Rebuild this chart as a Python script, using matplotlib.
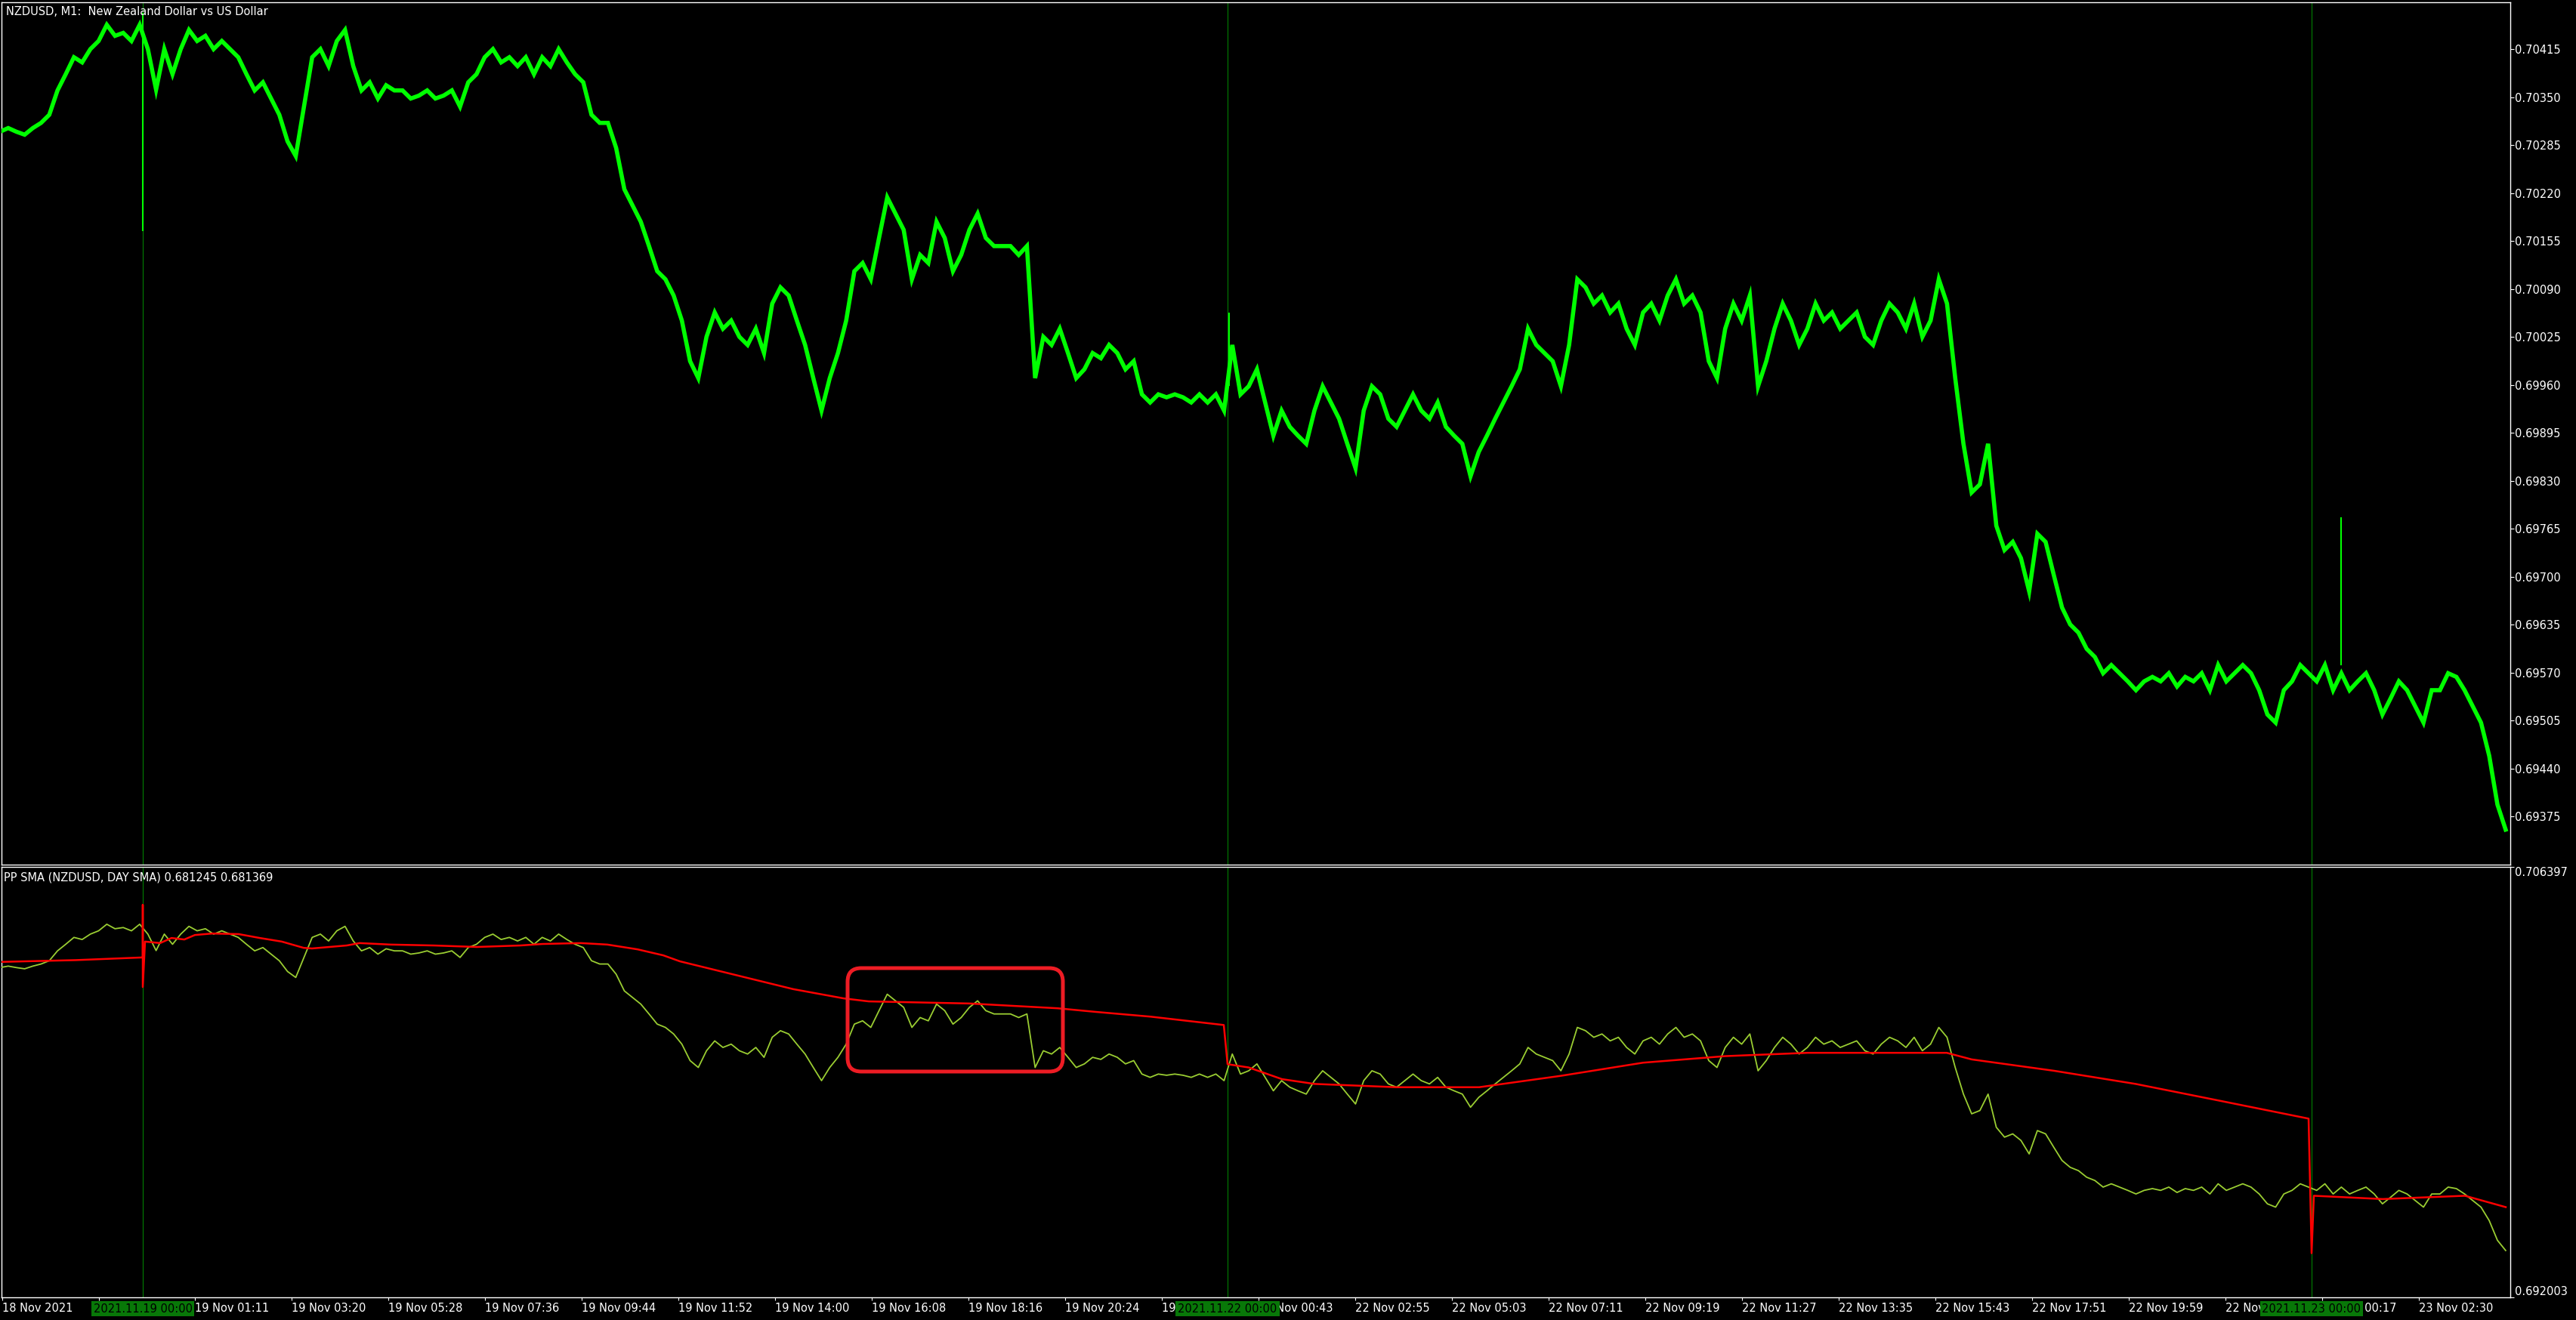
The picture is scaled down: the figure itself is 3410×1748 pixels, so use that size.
import matplotlib
matplotlib.use("Agg")
import matplotlib.pyplot as plt
import matplotlib.transforms as mtransforms
from matplotlib.patches import FancyBboxPatch
import numpy as np

plt.rcParams['font.family'] = ['DejaVu Sans']

# NZDUSD M1 close: one sample every ~10.9 bars (1 bar ~ 1 px)
close = [
    0.70303, 0.70308, 0.70303, 0.70299, 0.70308, 0.70315, 0.70326, 0.70359, 0.70381, 0.70404,
    0.70397, 0.70415, 0.70426, 0.70448, 0.70433, 0.70437, 0.70426, 0.70448, 0.70415, 0.70360,
    0.70415, 0.70381, 0.70415, 0.70441, 0.70426, 0.70433, 0.70415, 0.70426, 0.70415, 0.70404,
    0.70381, 0.70359, 0.70370, 0.70348, 0.70326, 0.70290, 0.70270, 0.70337, 0.70404, 0.70415,
    0.70392, 0.70426, 0.70441, 0.70392, 0.70359, 0.70370, 0.70348, 0.70366, 0.70359, 0.70359,
    0.70348, 0.70352, 0.70359, 0.70348, 0.70352, 0.70359, 0.70337, 0.70370, 0.70381, 0.70404,
    0.70415, 0.70397, 0.70404, 0.70392, 0.70404, 0.70381, 0.70404, 0.70392, 0.70415, 0.70397,
    0.70381, 0.70370, 0.70326, 0.70315, 0.70315, 0.70281, 0.70225, 0.70203, 0.70181, 0.70148,
    0.70114, 0.70103, 0.70081, 0.70047, 0.69992, 0.69969, 0.70025, 0.70058, 0.70036, 0.70047,
    0.70025, 0.70014, 0.70036, 0.70003, 0.70070, 0.70092, 0.70081, 0.70047, 0.70014, 0.69969,
    0.69925, 0.69969, 0.70003, 0.70047, 0.70114, 0.70125, 0.70103, 0.70159, 0.70214, 0.70192,
    0.70170, 0.70103, 0.70136, 0.70125, 0.70181, 0.70159, 0.70114, 0.70136, 0.70170, 0.70192,
    0.70159, 0.70148, 0.70148, 0.70148, 0.70136, 0.70148, 0.69969, 0.70025, 0.70014, 0.70036,
    0.70003, 0.69969, 0.69981, 0.70003, 0.69996, 0.70014, 0.70003, 0.69981, 0.69992, 0.69947,
    0.69936, 0.69947, 0.69943, 0.69947, 0.69943, 0.69936, 0.69947, 0.69936, 0.69947, 0.69925,
    0.70014, 0.69947, 0.69958, 0.69981, 0.69936, 0.69891, 0.69925, 0.69903, 0.69891, 0.69880,
    0.69925, 0.69958, 0.69936, 0.69914, 0.69880, 0.69847, 0.69925, 0.69958, 0.69947, 0.69914,
    0.69903, 0.69925, 0.69947, 0.69925, 0.69914, 0.69936, 0.69903, 0.69891, 0.69880, 0.69836,
    0.69869, 0.69891, 0.69914, 0.69936, 0.69958, 0.69981, 0.70036, 0.70014, 0.70003, 0.69992,
    0.69958, 0.70014, 0.70103, 0.70092, 0.70070, 0.70081, 0.70058, 0.70070, 0.70036, 0.70014,
    0.70058, 0.70070, 0.70047, 0.70081, 0.70103, 0.70070, 0.70081, 0.70058, 0.69992, 0.69969,
    0.70036, 0.70070, 0.70047, 0.70081, 0.69958, 0.69992, 0.70036, 0.70070, 0.70047, 0.70014,
    0.70036, 0.70070, 0.70047, 0.70058, 0.70036, 0.70047, 0.70058, 0.70025, 0.70014, 0.70047,
    0.70070, 0.70058, 0.70036, 0.70070, 0.70025, 0.70047, 0.70103, 0.70070, 0.69969, 0.69880,
    0.69814, 0.69825, 0.69880, 0.69769, 0.69736, 0.69747, 0.69725, 0.69680, 0.69758, 0.69747,
    0.69702, 0.69658, 0.69635, 0.69624, 0.69602, 0.69591, 0.69569, 0.69580, 0.69569, 0.69558,
    0.69546, 0.69558, 0.69564, 0.69558, 0.69569, 0.69551, 0.69564, 0.69558, 0.69569, 0.69546,
    0.69580, 0.69558, 0.69569, 0.69580, 0.69569, 0.69546, 0.69513, 0.69502, 0.69546, 0.69558,
    0.69580, 0.69569, 0.69558, 0.69580, 0.69546, 0.69569, 0.69546, 0.69558, 0.69569, 0.69546,
    0.69513, 0.69535, 0.69558, 0.69546, 0.69524, 0.69502, 0.69546, 0.69546, 0.69569, 0.69564,
    0.69546, 0.69524, 0.69502, 0.69457, 0.69391, 0.69357,
]
bars_per_sample = 10.875

# single-bar wicks visible on the price panel
wick_bar = [189, 1627, 3099]
wick_low = [0.70168, 0.69958, 0.69580]
wick_high = [0.70464, 0.70058, 0.69780]

# PP SMA (day SMA), red line in the lower window
sma_bar = [0, 100, 189, 189, 189, 192, 212, 227, 244, 258, 281, 316, 344, 373, 402, 413, 459,
           476, 517, 574, 631, 689, 718, 769, 804, 844, 878, 900, 979, 1050, 1117, 1150, 1283,
           1400, 1450, 1523, 1620, 1625, 1653, 1697, 1740, 1849, 1958, 2066, 2175, 2284, 2393,
           2501, 2577, 2610, 2719, 2827, 2936, 3056, 3060, 3063, 3154, 3263, 3317]
sma = [0.70322, 0.70328, 0.70337, 0.70513, 0.70238, 0.70390, 0.70385, 0.70402, 0.70397, 0.70412,
       0.70417, 0.70415, 0.70402, 0.70390, 0.70369, 0.70367, 0.70377, 0.70385, 0.70380, 0.70377,
       0.70372, 0.70377, 0.70382, 0.70385, 0.70380, 0.70364, 0.70344, 0.70324, 0.70275, 0.70231,
       0.70200, 0.70190, 0.70183, 0.70167, 0.70155, 0.70139, 0.70111, 0.69980, 0.69969, 0.69930,
       0.69914, 0.69903, 0.69903, 0.69941, 0.69985, 0.70007, 0.70018, 0.70018, 0.70018, 0.69996,
       0.69958, 0.69914, 0.69859, 0.69798, 0.69348, 0.69540, 0.69529, 0.69540, 0.69502]

# day separators
sep_bar = [189, 1625, 3060]
sep_labels = ["2021.11.19 00:00", "2021.11.22 00:00", "2021.11.23 00:00"]

time_ticks = [3, 131, 258, 386, 514, 642, 770, 898, 1026, 1154, 1282, 1410, 1538, 1666,
              1794, 1922, 2050, 2178, 2306, 2434, 2562, 2690, 2818, 2946, 3074, 3202]
time_labels = ["18 Nov 2021", "18 Nov 23:03", "19 Nov 01:11", "19 Nov 03:20", "19 Nov 05:28",
               "19 Nov 07:36", "19 Nov 09:44", "19 Nov 11:52", "19 Nov 14:00", "19 Nov 16:08",
               "19 Nov 18:16", "19 Nov 20:24", "19 Nov 22:32", "22 Nov 00:43", "22 Nov 02:55",
               "22 Nov 05:03", "22 Nov 07:11", "22 Nov 09:19", "22 Nov 11:27", "22 Nov 13:35",
               "22 Nov 15:43", "22 Nov 17:51", "22 Nov 19:59", "22 Nov 22:07", "23 Nov 00:17",
               "23 Nov 02:30"]

price_ticks = [0.69375, 0.69440, 0.69505, 0.69570, 0.69635, 0.69700, 0.69765, 0.69830, 0.69895,
               0.69960, 0.70025, 0.70090, 0.70155, 0.70220, 0.70285, 0.70350, 0.70415]
sub_lo, sub_hi = 0.692003, 0.706397

W, H = 3410, 1748
fig = plt.figure(figsize=(W / 100, H / 100), dpi=100, facecolor='black')
left, right = 2 / W, 3323 / W
ax1 = fig.add_axes([left, 1 - 1145 / H, right - left, (1145 - 3) / H])
ax2 = fig.add_axes([left, 1 - 1718 / H, right - left, (1718 - 1148) / H], sharex=ax1)

x = np.arange(len(close)) * bars_per_sample
fs = 10.5

for ax in (ax1, ax2):
    ax.set_facecolor('black')
    for s in ax.spines.values():
        s.set_color('white')
        s.set_linewidth(1.0)
    for b in sep_bar:
        ax.axvline(b, color='#008000', lw=0.8, zorder=1)
    ax.yaxis.tick_right()
    ax.tick_params(axis='y', colors='white', labelsize=fs, length=3.6, width=0.8, pad=1)

# price window
ax1.plot(x, close, color='#00ff00', lw=4.0, solid_joinstyle='miter', zorder=3)
ax1.vlines(wick_bar, wick_low, wick_high, color='#00ff00', lw=1.5, zorder=3)
ax1.set_ylim(0.693095, 0.704785)
ax1.set_yticks(price_ticks)
ax1.set_yticklabels(['%.5f' % v for v in price_ticks])
ax1.tick_params(axis='x', bottom=False, labelbottom=False)

# indicator window
ax2.plot(x, close, color='#9acd32', lw=1.3, zorder=3)
ax2.plot(sma_bar, sma, color='#ff0000', lw=1.8, zorder=4)
ax2.set_ylim(sub_lo, sub_hi)
ax2.set_yticks([sub_lo, sub_hi])
ax2.set_yticklabels(['%.6f' % sub_lo, '%.6f' % sub_hi])
lbls = ax2.get_yticklabels()
lbls[0].set_va('bottom')
lbls[1].set_va('top')

ax2.set_xlim(2, 3323)
ax2.set_xticks(time_ticks)
ax2.set_xticklabels(time_labels, ha='left')
ax2.tick_params(axis='x', colors='white', labelsize=fs, length=3, width=0.8, pad=2)

# highlight box
ypp = (sub_hi - sub_lo) / 570
box = FancyBboxPatch((1122, 0.699554), 1407 - 1122, 0.703013 - 0.699554,
                     boxstyle='round,pad=0,rounding_size=18', mutation_aspect=ypp,
                     facecolor='none', edgecolor='#ed1c24', lw=3.6, zorder=6)
ax2.add_patch(box)

# separator date labels on the time scale
tr = mtransforms.blended_transform_factory(ax2.transData, fig.transFigure)
for b, s in zip(sep_bar, sep_labels):
    fig.text(b, 1 - 1733 / H, s, transform=tr, ha='center', va='center', fontsize=fs,
             color='black', zorder=10,
             bbox=dict(boxstyle='square,pad=0.2', facecolor='#087808', edgecolor='none'))

fig.text(8 / W, 1 - 15 / H, "NZDUSD, M1:  New Zealand Dollar vs US Dollar", color='white',
         fontsize=fs, ha='left', va='center')
fig.text(5 / W, 1 - 1162 / H, "PP SMA (NZDUSD, DAY SMA) 0.681245 0.681369", color='white',
         fontsize=fs, ha='left', va='center')

fig.savefig('out.png', dpi=100, facecolor='black')
